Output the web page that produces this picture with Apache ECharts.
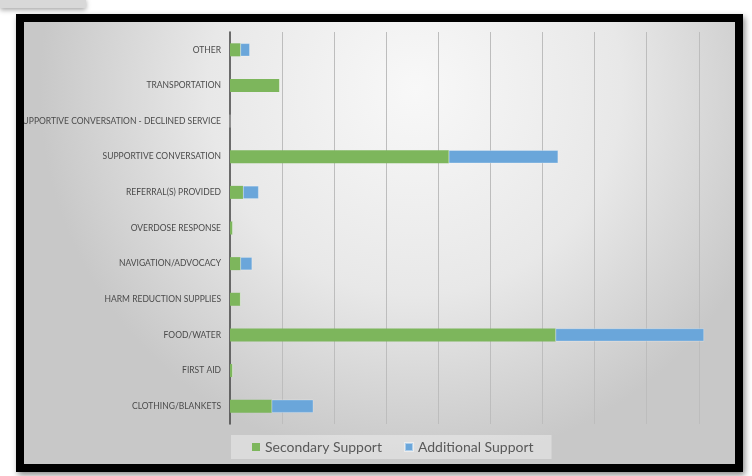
<!DOCTYPE html>
<html>
<head>
<meta charset="utf-8">
<script src="https://cdn.jsdelivr.net/npm/echarts@6/dist/echarts.min.js"></script>
<style>
  html, body { margin: 0; padding: 0; background: #ffffff; }
  #chart { width: 752px; height: 476px; }
</style>
</head>
<body>
<div id="chart"></div>
<script>
// Support categories, listed bottom to top as drawn on the category axis
const categories = [
  'CLOTHING/BLANKETS',
  'FIRST AID',
  'FOOD/WATER',
  'HARM REDUCTION SUPPLIES',
  'NAVIGATION/ADVOCACY',
  'OVERDOSE RESPONSE',
  'REFERRAL(S) PROVIDED',
  'SUPPORTIVE CONVERSATION',
  'SUPPORTIVE CONVERSATION - DECLINED SERVICE',
  'TRANSPORTATION',
  'OTHER'
];
const secondarySupport = [16, 1, 125, 4, 4, 1, 5, 84, 0, 19, 4];
const additionalSupport = [16, 0, 57, 0, 4.5, 0, 6, 42, 0, 0, 3.6];
const seriesNames = ['Secondary Support', 'Additional Support'];

const labelFont = 'Lato, "Open Sans", sans-serif';

const chart = echarts.init(document.getElementById('chart'), null, { renderer: 'canvas' });

chart.setOption({
  animation: false,
  graphic: [
    // small tab peeking in at the top-left corner
    {
      type: 'rect', z: -20,
      shape: { x: 0, y: -2, width: 86, height: 10 },
      style: { fill: '#d8d8d8', shadowBlur: 5, shadowColor: 'rgba(0,0,0,0.35)', shadowOffsetY: 2 }
    },
    // drop shadow behind the frame
    {
      type: 'rect', z: -20,
      shape: { x: 16, y: 14, width: 727, height: 458 },
      style: { fill: '#000000', shadowBlur: 6, shadowColor: 'rgba(0,0,0,0.45)', shadowOffsetX: 2, shadowOffsetY: 3 }
    },
    // chart area with soft grey gradient
    {
      type: 'rect', z: -19,
      shape: { x: 24, y: 22, width: 711, height: 442 },
      style: {
        fill: new echarts.graphic.RadialGradient(0.55, 0.15, 0.85, [
          { offset: 0, color: '#f8f8f8' },
          { offset: 0.55, color: '#e8e8e8' },
          { offset: 1, color: '#c8c8c8' }
        ])
      }
    },
    // black frame drawn on top so it trims overflowing labels
    {
      type: 'rect', z: 100,
      shape: { x: 20, y: 18, width: 719, height: 450 },
      style: { fill: null, stroke: '#000000', lineWidth: 8 }
    }
  ],
  legend: {
    data: seriesNames,
    left: 231,
    top: 435,
    icon: 'rect',
    itemWidth: 8,
    itemHeight: 8,
    itemGap: 22,
    padding: [5, 18, 5, 21],
    backgroundColor: 'rgba(255,255,255,0.35)',
    textStyle: { fontSize: 14, color: '#595959', fontFamily: labelFont }
  },
  grid: {
    left: 230,
    right: 48,
    top: 32,
    bottom: 52,
    outerBoundsMode: 'none'
  },
  xAxis: {
    type: 'value',
    min: 0,
    max: 182,
    interval: 20,
    axisLabel: { show: false },
    axisLine: { show: false },
    axisTick: { show: false },
    splitLine: {
      show: true,
      showMinLine: false,
      showMaxLine: false,
      lineStyle: { color: '#bdbdbd', width: 1 }
    }
  },
  yAxis: {
    type: 'category',
    data: categories,
    axisLine: { show: true, lineStyle: { color: '#404040', width: 1.5 } },
    axisTick: { show: false },
    axisLabel: {
      fontSize: 8.5,
      margin: 9,
      color: '#4a4a4a',
      fontFamily: labelFont
    }
  },
  series: [
    {
      name: seriesNames[0],
      type: 'bar',
      stack: 'total',
      barWidth: 13,
      itemStyle: { color: '#7db65c' },
      data: secondarySupport
    },
    {
      name: seriesNames[1],
      type: 'bar',
      stack: 'total',
      barWidth: 13,
      itemStyle: { color: '#6aa6da', borderColor: 'rgba(255,255,255,0.45)', borderWidth: 0.6 },
      data: additionalSupport
    }
  ]
});
</script>
</body>
</html>
